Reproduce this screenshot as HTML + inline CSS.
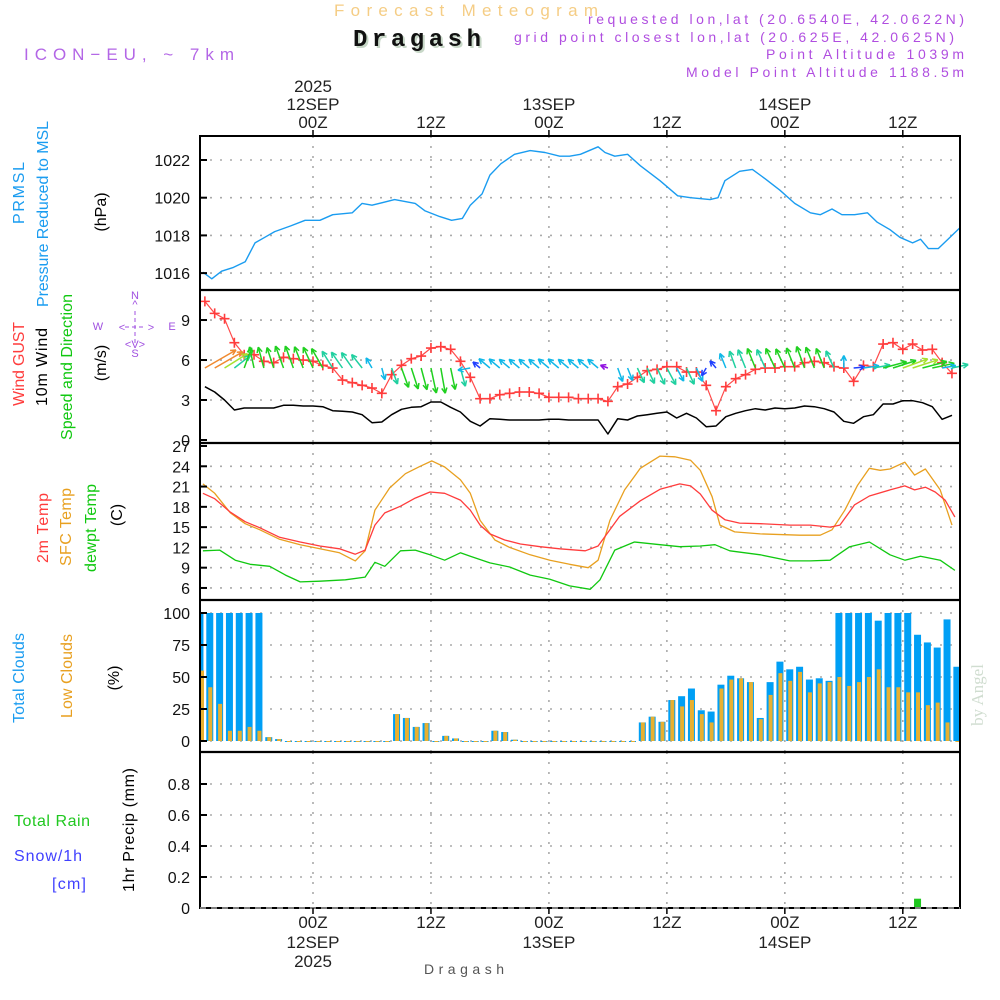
<!DOCTYPE html>
<html><head><meta charset="utf-8"><style>
html,body{margin:0;padding:0;background:#fff;}
svg{display:block;font-family:"Liberation Sans",sans-serif;}
</style></head><body>
<svg id="chart" width="1000" height="1000" viewBox="0 0 1000 1000" xmlns="http://www.w3.org/2000/svg">
<rect x="0" y="0" width="1000" height="1000" fill="#fff"/>
<g>
<text x="334" y="16" font-size="17" fill="#f5cd85" textLength="264" lengthAdjust="spacing">Forecast Meteogram</text>
<text x="355" y="48" font-size="24" font-weight="bold" font-family="Liberation Mono,monospace" fill="#c8d8c8" textLength="128">Dragash</text>
<text x="353" y="46" font-size="24" font-weight="bold" font-family="Liberation Mono,monospace" fill="#111" textLength="128">Dragash</text>
<text x="24" y="60" font-size="17" fill="#b366e6" textLength="210" lengthAdjust="spacing">ICON−EU, ~ 7km</text>
<text x="588" y="24" font-size="14" fill="#b04ee0" textLength="376" lengthAdjust="spacing">requested lon,lat (20.6540E, 42.0622N)</text>
<text x="514" y="42" font-size="14" fill="#b04ee0" textLength="440" lengthAdjust="spacing">grid point closest lon,lat (20.625E, 42.0625N)</text>
<text x="766" y="59" font-size="14" fill="#b04ee0" textLength="198" lengthAdjust="spacing">Point Altitude 1039m</text>
<text x="686" y="77" font-size="14" fill="#b04ee0" textLength="278" lengthAdjust="spacing">Model Point Altitude 1188.5m</text>
</g>
<g id="grid"></g>
<g id="marks"></g>
<g id="frame"></g>
<g id="labels"></g>
</svg>
<script>
// ---------- DATA ----------
const presHours=[-11.2,-10.3,-9.3,-8.1,-6.9,-5.9,-4.9,-3.9,-2.3,-0.8,0.7,2,4,5,6,8.3,10.4,11.4,12.9,14.1,15.2,16,17.2,18,19.1,20.5,22.1,23.6,25.1,26.1,27.2,29,29.7,30.7,32,33.3,35.3,37.1,38.4,40.4,41.2,41.9,43.4,44.7,46,47.5,49,50.6,51.6,52.8,53.8,55.1,56.4,57.4,58.7,59.7,61,61.8,62.6,63.6,64.6,65.8];
const presVals=[1016.05,1015.7,1016.1,1016.3,1016.6,1017.6,1017.9,1018.2,1018.5,1018.8,1018.8,1019.1,1019.2,1019.7,1019.6,1019.9,1019.7,1019.3,1019.0,1018.8,1018.9,1019.6,1020.2,1021.2,1021.8,1022.3,1022.5,1022.4,1022.2,1022.2,1022.3,1022.7,1022.4,1022.2,1022.3,1021.7,1020.9,1020.1,1020.0,1019.9,1020.0,1020.9,1021.4,1021.5,1021.0,1020.4,1019.7,1019.2,1019.1,1019.4,1019.1,1019.1,1019.2,1018.7,1018.3,1017.9,1017.6,1017.8,1017.3,1017.3,1017.8,1018.4];
const windHours=[-11,-10,-9,-8,-7,-6,-5,-4,-3,-2,-1,0,1,2,3,4,5,6,7,8,9,10,11,12,13,14,15,16,17,18,19,20,21,22,23,24,25,26,27,28,29,30,31,32,33,34,35,36,37,38,39,40,41,42,43,44,45,46,47,48,49,50,51,52,53,54,55,56,57,58,59,60,61,62,63,64,65];
const gustVals=[10.4,9.5,9.1,7.3,6.4,6.4,5.9,5.8,6.2,6.1,6.0,5.9,5.6,5.4,4.5,4.3,4.1,3.9,3.5,4.9,5.6,6.1,6.3,6.9,7.0,6.8,5.9,4.7,3.1,3.1,3.4,3.5,3.6,3.6,3.5,3.2,3.2,3.2,3.1,3.1,3.1,2.9,4.0,4.2,4.7,5.2,5.3,5.5,5.5,5.1,5.1,4.1,2.2,4.0,4.6,4.9,5.3,5.4,5.4,5.5,5.5,5.8,5.9,5.8,5.5,5.4,4.4,5.6,5.5,7.2,7.3,6.8,7.2,6.75,6.8,5.8,5.0];
const windVals=[4.0,3.6,3.0,2.25,2.4,2.4,2.4,2.4,2.6,2.6,2.55,2.55,2.5,2.2,2.15,2.1,1.9,1.3,1.35,1.9,2.3,2.45,2.5,2.85,2.85,2.45,2.1,1.4,1.05,1.6,1.55,1.5,1.5,1.5,1.5,1.55,1.55,1.5,1.5,1.5,1.5,0.45,1.6,1.5,1.8,1.9,2.0,2.1,1.65,2.0,1.65,1.0,1.05,1.75,2.0,2.2,2.35,2.25,2.4,2.35,2.4,2.55,2.5,2.35,2.1,1.4,1.25,1.75,1.9,2.7,2.7,2.95,2.95,2.8,2.5,1.55,1.85];
const windDirs=[240,240,238,232,200,168,165,162,160,160,158,155,150,148,145,145,142,150,345,340,340,342,345,348,350,348,345,80,130,130,130,130,130,130,130,130,130,130,130,130,130,110,340,338,335,335,335,332,332,335,335,30,140,158,160,158,158,156,155,155,158,160,158,158,155,180,265,262,260,255,252,250,252,255,258,260,258];
const tempHours=[-11.2,-10,-8.4,-6.9,-5.4,-3.4,-1.3,0.7,2.7,4.3,5.3,6.3,7.3,8.9,10.4,11.9,13.4,15,16,17,18,19.5,21.1,23.1,25.1,27.7,29,30.2,31.2,33.3,35.3,37.3,38.4,39.4,40.6,41.9,43.4,45.5,48.5,50.6,52.6,53.6,55.1,56.6,58.7,60.2,61.2,62.3,63.3,64.3,65.3];
const t2mVals=[20.0,19.2,17.2,15.8,14.9,13.5,12.8,12.2,11.8,11.0,11.6,15.3,17.1,18.1,19.3,20.2,20.0,19.0,17.5,15.3,14.0,13.1,12.5,12.1,11.8,11.5,12.2,14.6,16.6,18.9,20.6,21.4,21.1,19.9,17.5,16.1,15.6,15.5,15.3,15.3,15.0,15.3,18.3,19.6,20.5,21.1,20.5,20.9,20.2,19.0,16.5];
const sfcHours=[-11.2,-10,-8.4,-6.9,-5.4,-3.4,-1.3,0.7,2.7,4.3,5.3,6.3,7.8,9.4,10.9,12.1,13.4,15,16,17,18.5,20,22.1,24.1,26.1,28,29,30.2,31.7,33.3,35.3,36.8,38.4,39.4,40.6,41.4,42.9,45.5,49.5,51.6,52.8,54.1,55.4,56.6,57.7,58.7,60.2,61.2,62.3,63.8,65];
const sfcVals=[21.4,20.0,17.1,15.5,14.6,13.2,12.4,11.8,11.2,10.0,11.5,17.5,20.8,22.9,24.0,24.8,23.9,22.0,20.0,16.0,13.1,12.0,10.9,10.1,9.5,9.0,10.1,16.0,20.5,23.7,25.5,25.4,24.9,23.4,19.5,15.3,14.3,14.0,13.8,13.8,14.6,17.5,21.2,23.7,23.4,23.6,24.6,22.7,23.6,20.5,15.3];
const dewHours=[-11.2,-9.5,-7.9,-6.4,-4.4,-2.8,-1.3,0.7,3.3,5.3,6.3,7.3,8.9,10.4,11.9,13.4,15,16,18,20,22.1,24.1,26.1,28.2,29.2,30.7,32.7,35.3,37.3,39.4,40.9,42.4,45.5,48.5,50.6,52.6,54.6,56.6,58.7,60.2,61.8,63.8,65.3];
const dewVals=[11.5,11.6,10.1,9.5,9.2,7.9,6.9,7.0,7.2,7.6,9.8,9.2,11.5,11.6,10.9,10.1,11.2,10.7,9.7,9.1,7.9,7.3,6.3,5.8,7.2,11.6,12.8,12.4,12.1,12.2,12.4,11.5,10.9,10.0,10.0,10.1,12.1,12.8,10.9,10.1,10.7,10.1,8.6];
const barHours=[-11.5,-10.5,-9.5,-8.5,-7.5,-6.5,-5.5,-4.5,-3.5,-2.5,-1.5,-0.5,0.5,1.5,2.5,3.5,4.5,5.5,6.5,7.5,8.5,9.5,10.5,11.5,12.5,13.5,14.5,15.5,16.5,17.5,18.5,19.5,20.5,21.5,22.5,23.5,24.5,25.5,26.5,27.5,28.5,29.5,30.5,31.5,32.5,33.5,34.5,35.5,36.5,37.5,38.5,39.5,40.5,41.5,42.5,43.5,44.5,45.5,46.5,47.5,48.5,49.5,50.5,51.5,52.5,53.5,54.5,55.5,56.5,57.5,58.5,59.5,60.5,61.5,62.5,63.5,64.5,65.5];
const totalCloud=[100,100,100,100,100,100,100,3,1.5,0,0,0,0,0,0,0,0,0,0,0,21,18,11,14,0,4,2,0,0,0,8,7,1,0,0,0,0,0,0,0,0,0,0,0,0,14.5,19,15,32,35,41,24,23,44,51,49,46,18,46,62,56,58,48,49,47,100,100,100,100,94,100,100,100,83,77,73,95,58];
const lowCloud=[55,42,29,8,8,11,8,3,1.5,0,0,0,0,0,0,0,0,0,0,0,21,18,11,14,0,4,2,0,0,0,8,7,1,0,0,0,0,0,0,0,0,0,0,0,0,14.5,19,15,32,27,32,21,14.5,41,48,49,46,17,36,53,47,54,38,45,46,50,43,46,50,56,42,42,38,38,28,30,14.5,0];
const precipVals=[0,0,0,0,0,0,0,0,0,0,0,0,0,0,0,0,0,0,0,0,0,0,0,0,0,0,0,0,0,0,0,0,0,0,0,0,0,0,0,0,0,0,0,0,0,0,0,0,0,0,0,0,0,0,0,0,0,0,0,0,0,0,0,0,0,0,0,0,0,0,0,0,0,0.06,0,0,0,0];
const presTicks=[1016,1018,1020,1022];
const windTicks=[0,3,6,9];
const tempTicks=[6,9,12,15,18,21,24,27];
const cloudTicks=[0,25,50,75,100];
const precipTicks=[0,0.2,0.4,0.6,0.8];
const timeTickHours=[0,12,24,36,48,60];
const timeTickTop=[["2025","12SEP","00Z"],["","","12Z"],["","13SEP","00Z"],["","","12Z"],["","14SEP","00Z"],["","","12Z"]];
const timeTickBottom=[["00Z","12SEP","2025"],["12Z","",""],["00Z","13SEP",""],["12Z","",""],["00Z","14SEP",""],["12Z","",""]];

// ---------- AXES ----------
const L=200,R=960;
const X=h=>313+h*9.83;
const yP=v=>160+(1022-v)*18.85;
const yW=v=>440-v*13.33;
const yT=v=>446+(27-v)*6.76;
const yC=v=>741-v*1.28;
const yR=v=>908-v*155;
const NS="http://www.w3.org/2000/svg";
function mk(tag,attrs,parent){const e=document.createElementNS(NS,tag);for(const k in attrs)e.setAttribute(k,attrs[k]);parent.appendChild(e);return e;}
const grid=document.getElementById('grid'),marks=document.getElementById('marks'),frame=document.getElementById('frame'),labels=document.getElementById('labels');
const panels=[[136,290,presTicks,yP,v=>String(v)],[290,443,windTicks,yW,v=>String(v)],[443,600,tempTicks,yT,v=>String(v)],[600,752,cloudTicks,yC,v=>String(v)],[752,908,precipTicks,yR,v=>v===0?"0":v.toFixed(1)]];
panels.forEach((p,pi)=>{
  p[2].forEach(t=>{
    const y=p[3](t);
    if(y>p[0]+3&&y<p[1]-3){
      const gl=mk('line',{x1:L,x2:R,y1:y,y2:y,stroke:'#aaa','stroke-width':1.6,'stroke-dasharray':'2 8'},grid);
      
      
    }
    const tk=mk('line',{x1:L,x2:L+7,y1:y,y2:y,stroke:'#000','stroke-width':2},frame);
    
    
    const tl=mk('text',{x:190,y:y+6,'font-size':16,'text-anchor':'end',fill:'#111'},labels);
    tl.textContent=p[4](t);
    
    
  });
  timeTickHours.forEach(h=>{
    const vl=mk('line',{x1:X(h),x2:X(h),y1:p[0],y2:p[1],stroke:'#aaa','stroke-width':1.6,'stroke-dasharray':'2 8'},grid);
    
    
  });
});
// frame
const fr=mk('rect',{x:L,y:136,width:R-L,height:772,fill:'none',stroke:'#000','stroke-width':2},frame);


[290,443,600,752].forEach(y=>{const s=mk('line',{x1:L,x2:R,y1:y,y2:y,stroke:'#000','stroke-width':2.2},frame);

});
const zl=mk('line',{x1:L,x2:R,y1:908,y2:908,stroke:'#fff','stroke-width':1,'stroke-dasharray':'6 5'},frame);


// time labels
timeTickHours.forEach((h,i)=>{
  const x=X(h);
  const t1=mk('line',{x1:x,x2:x,y1:136,y2:130,stroke:'#000','stroke-width':1.5},frame);
  
  
  const t2=mk('line',{x1:x,x2:x,y1:908,y2:914,stroke:'#000','stroke-width':1.5},frame);
  
  
  [92,110,128].forEach((yy,k)=>{const s=timeTickTop[i][k];if(!s)return;
    const t=mk('text',{x:x,y:yy,'font-size':17,'text-anchor':'middle',fill:'#222'},labels);t.textContent=s;
    
    });
  [928,948,967].forEach((yy,k)=>{const s=timeTickBottom[i][k];if(!s)return;
    const t=mk('text',{x:x,y:yy,'font-size':17,'text-anchor':'middle',fill:'#222'},labels);t.textContent=s;
    
    });
});
// ---------- SERIES ----------
function line(hs,vs,yf,color,w,name){
  const d=hs.map((h,i)=>(i?'L':'M')+X(h).toFixed(1)+','+yf(vs[i]).toFixed(1)).join(' ');
  const p=mk('path',{d:d,fill:'none',stroke:color,'stroke-width':w,'stroke-linejoin':'round'},marks);
  
  
}
line(presHours,presVals,yP,'#1a9cf0',1.4,'pressure-line');
line(windHours,windVals,yW,'#000',1.5,'wind-speed-line');
line(windHours,gustVals,yW,'#ff4a4a',1.2,'gust-line');
windHours.forEach((h,i)=>{
  const x=X(h),y=yW(gustVals[i]);
  const g=mk('path',{d:`M${x-5},${y}H${x+5}M${x},${y-5}V${y+5}`,stroke:'#ff3c3c','stroke-width':1.6},marks);
  
  
});
function spdColor(s){
  if(s>=3.5)return '#f08a30';
  if(s>=2.9)return '#a8e030';
  if(s>=2.3)return '#20d020';
  if(s>=1.8)return '#20d0a0';
  if(s>=1.3)return '#10b8e8';
  if(s>=0.9)return '#2040ff';
  return '#9010e0';
}
windHours.forEach((h,i)=>{
  const s=windVals[i],dir=windDirs[i]*Math.PI/180;
  const len=Math.max(8,s*9);
  const dx=-Math.sin(dir)*len,dy=Math.cos(dir)*len;
  const x0=X(h),y0=368,x1=x0+dx,y1=y0+dy;
  const a=Math.atan2(dy,dx),hl=6;
  const d=`M${x0},${y0}L${x1},${y1}M${x1},${y1}L${x1-hl*Math.cos(a-0.45)},${y1-hl*Math.sin(a-0.45)}M${x1},${y1}L${x1-hl*Math.cos(a+0.45)},${y1-hl*Math.sin(a+0.45)}`;
  const ar=mk('path',{d:d,stroke:spdColor(s),'stroke-width':1.5,fill:'none'},marks);
  
  
});
line(sfcHours,sfcVals,yT,'#e8a020',1.3,'sfc-temp-line');
line(tempHours,t2mVals,yT,'#ff3c3c',1.3,'temp-2m-line');
line(dewHours,dewVals,yT,'#10c810',1.3,'dewpoint-line');
barHours.forEach((h,i)=>{
  const x=X(h);
  const tv=totalCloud[i],lv=lowCloud[i];
  const b=mk('rect',{x:Math.max(L,x-3.5),y:yC(tv),width:Math.min(7,x+3.5-L),height:Math.max(1,741-yC(tv)),fill:'#009ff5'},marks);
  
  
  const o=mk('rect',{x:Math.max(L,x-1.5),y:yC(lv),width:4,height:Math.max(1,741-yC(lv)),fill:'#e8b030'},marks);
  
  
  if(precipVals[i]>0){
    const r=mk('rect',{x:x-3.5,y:yR(precipVals[i]),width:7,height:908-yR(precipVals[i]),fill:'#20c820'},marks);
    
    
  }
});
// ---------- AXIS TITLES ----------
function vtext(x,y,s,color,size,name,len){
  const t=mk('text',{x:0,y:0,'font-size':size,fill:color,'text-anchor':'middle',transform:`translate(${x},${y}) rotate(-90)`},labels);
  if(len)t.setAttribute('textLength',len);
  t.textContent=s;
  
  
}
function htext(x,y,s,color,size,name,len){
  const t=mk('text',{x:x,y:y,'font-size':size,fill:color},labels);
  if(len)t.setAttribute('textLength',len);
  t.textContent=s;
  
  
}
vtext(24,193,'PRMSL','#1a9cf0',16,'pressure-title',62);
vtext(48,214,'Pressure Reduced to MSL','#1a9cf0',16,'pressure-subtitle',186);
vtext(106,212,'(hPa)','#000',16,'pressure-unit');
vtext(24,364,'Wind GUST','#ff3c3c',16,'gust-title',84);
vtext(47,367,'10m Wind','#000',16,'wind-title',78);
vtext(72,367,'Speed and Direction','#10c810',16,'wind-dir-title',146);
vtext(106,363,'(m/s)','#000',16,'wind-unit');
vtext(48,528,'2m Temp','#ff3c3c',16,'temp-2m-title',70);
vtext(71,527,'SFC Temp','#e8a020',16,'sfc-temp-title',78);
vtext(96,528,'dewpt Temp','#10c810',16,'dewpoint-title',88);
vtext(122,515,'(C)','#000',16,'temp-unit');
vtext(24,678,'Total Clouds','#1a9cf0',16,'total-clouds-title',90);
vtext(72,676,'Low Clouds','#e8a020',16,'low-clouds-title',84);
vtext(119,678,'(%)','#000',16,'clouds-unit');
vtext(134,830,'1hr Precip (mm)','#000',16,'precip-title',124);
htext(14,826,'Total  Rain','#20c820',16,'rain-legend',76);
htext(14,861,'Snow/1h','#4040ff',16,'snow-legend',68);
htext(52,889,'[cm]','#4040ff',16,'snow-unit',34);
htext(424,974,'Dragash','#555',14,'footer-location',80);
// compass
const cg=mk('g',{fill:'#a050e0','font-size':11,'text-anchor':'middle'},labels);


[[135,299,'N'],[135,357,'S'],[98,330,'W'],[172,330,'E'],[135,308,'^'],[122,331,'<'],[151,331,'>'],[135,348,'<V>']].forEach(c=>{const t=mk('text',{x:c[0],y:c[1]},cg);t.textContent=c[2];});
mk('path',{d:'M135,311V345M125,327H146',stroke:'#a050e0','stroke-width':1,'stroke-dasharray':'4 3'},cg);
const ba=mk('text',{x:0,y:0,'font-size':17,fill:'#d0ddd0','font-family':'Liberation Serif,serif','text-anchor':'middle',transform:'translate(983,695) rotate(-90)'},labels);
ba.textContent='by Angel';


</script>
</body></html>
